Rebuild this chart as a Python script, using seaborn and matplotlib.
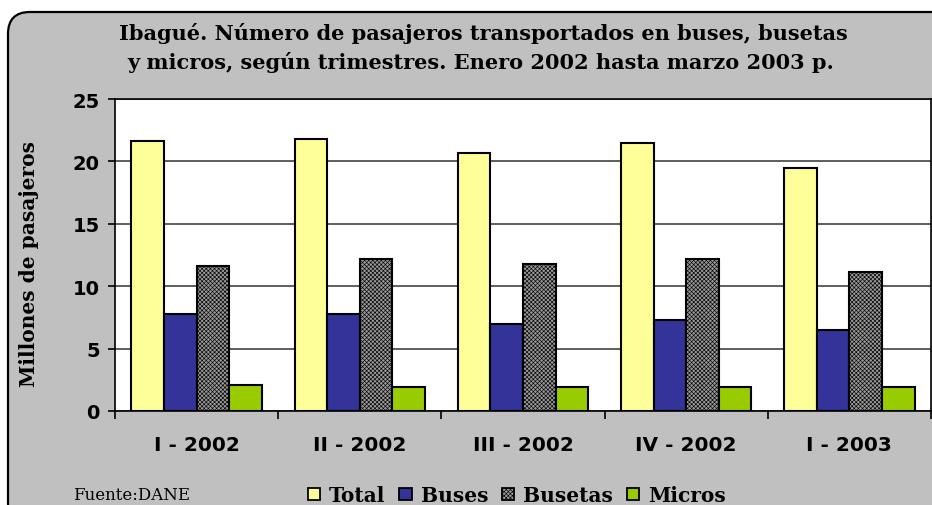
import matplotlib
matplotlib.use("Agg")
import matplotlib.pyplot as plt
from matplotlib.patches import FancyBboxPatch, Patch
from matplotlib.transforms import IdentityTransform
import seaborn as sns
import pandas as pd

# Passengers (millions) per quarter and vehicle type
quarters = ["I - 2002", "II - 2002", "III - 2002", "IV - 2002", "I - 2003"]
series = ["Total", "Buses", "Busetas", "Micros"]
total = [21.6, 21.8, 20.7, 21.5, 19.5]
buses = [7.8, 7.8, 7.0, 7.3, 6.5]
busetas = [11.6, 12.2, 11.8, 12.2, 11.1]
micros = [2.1, 1.9, 1.9, 1.9, 1.9]
yticks = [0, 5, 10, 15, 20, 25]

colors = {"Total": "#FFFF99", "Buses": "#333399", "Busetas": "#9A9A9A", "Micros": "#99CC00"}
busetas_hatch = "xxxxxxxx"

df = pd.DataFrame({
    "Trimestre": quarters * 4,
    "Serie": [s for s in series for _ in quarters],
    "Pasajeros": total + buses + busetas + micros,
})

sns.set_theme(style="white")
plt.rcParams["hatch.color"] = "#555555"
plt.rcParams["hatch.linewidth"] = 0.45
plt.rcParams["text.color"] = "black"

W, H = 932, 506
fig = plt.figure(figsize=(W / 100, H / 100), dpi=100, facecolor="white")

# Rounded grey panel behind the chart
panel = FancyBboxPatch((8, -20), 950, H - 13 + 20,
                       boxstyle="round,pad=0,rounding_size=22",
                       transform=IdentityTransform(), facecolor="#C0C0C0",
                       edgecolor="black", linewidth=1.6, zorder=-5)
fig.patches.append(panel)

ax = fig.add_axes([115 / W, 94 / H, 816 / W, 312 / H], zorder=2)
sns.barplot(data=df, x="Trimestre", y="Pasajeros", hue="Serie", order=quarters,
            hue_order=series, palette=colors, saturation=1, width=0.8,
            edgecolor="black", linewidth=1.5, ax=ax, legend=False, zorder=3)

for bar in ax.containers[2]:
    bar.set_hatch(busetas_hatch)

ax.set_facecolor("white")
ax.set_ylim(0, 25)
ax.set_xlim(-0.5, len(quarters) - 0.5)
ax.set_yticks(yticks)
ax.yaxis.grid(True, color="#333333", linewidth=1.1, zorder=1)
ax.set_axisbelow(True)
for sp in ax.spines.values():
    sp.set_color("black")
    sp.set_linewidth(1.2)

ax.set_xlabel("")
ax.set_ylabel("")
ax.tick_params(axis="y", which="major", direction="out", length=5, width=1.2,
               color="black", pad=6, labelsize=14, left=True)
ax.tick_params(axis="x", which="major", length=0, pad=17, labelsize=14.5)
ax.set_xticks([i - 0.5 for i in range(len(quarters) + 1)], minor=True)
ax.tick_params(axis="x", which="minor", direction="out", length=6, width=1.2,
               color="black", bottom=True)
for lab in ax.get_xticklabels() + ax.get_yticklabels():
    lab.set_fontweight("bold")
    lab.set_family("DejaVu Sans")
    lab.set_color("black")

fig.text(29 / W, 1 - 264 / H, "Millones de pasajeros", rotation=90,
         ha="center", va="center", fontsize=14.5, fontweight="bold",
         family="DejaVu Serif", color="black")

fig.text(483 / W, 1 - 33 / H,
         "Ibagué. Número de pasajeros transportados en buses, busetas",
         ha="center", va="center", fontsize=15, fontweight="bold",
         family="DejaVu Serif", color="black")
fig.text(481 / W, 1 - 63 / H,
         "y micros, según trimestres. Enero 2002 hasta marzo 2003 p.",
         ha="center", va="center", fontsize=15, fontweight="bold",
         family="DejaVu Serif", color="black")

fig.text(73 / W, 1 - 496 / H, "Fuente:DANE", ha="left", va="center",
         fontsize=12, family="DejaVu Serif", color="black")

handles = [Patch(facecolor=colors[s], edgecolor="black", linewidth=1.3,
                 hatch=busetas_hatch if s == "Busetas" else None, label=s)
           for s in series]
leg = fig.legend(handles=handles, loc="center", bbox_to_anchor=(517 / W, 10 / H),
                 ncol=4, frameon=False, handlelength=0.6, handleheight=0.6,
                 handletextpad=0.45, columnspacing=0.7, borderpad=0,
                 labelcolor="black",
                 prop={"family": "DejaVu Serif", "weight": "bold", "size": 14.5})

fig.savefig("out.png", dpi=100, facecolor="white")
